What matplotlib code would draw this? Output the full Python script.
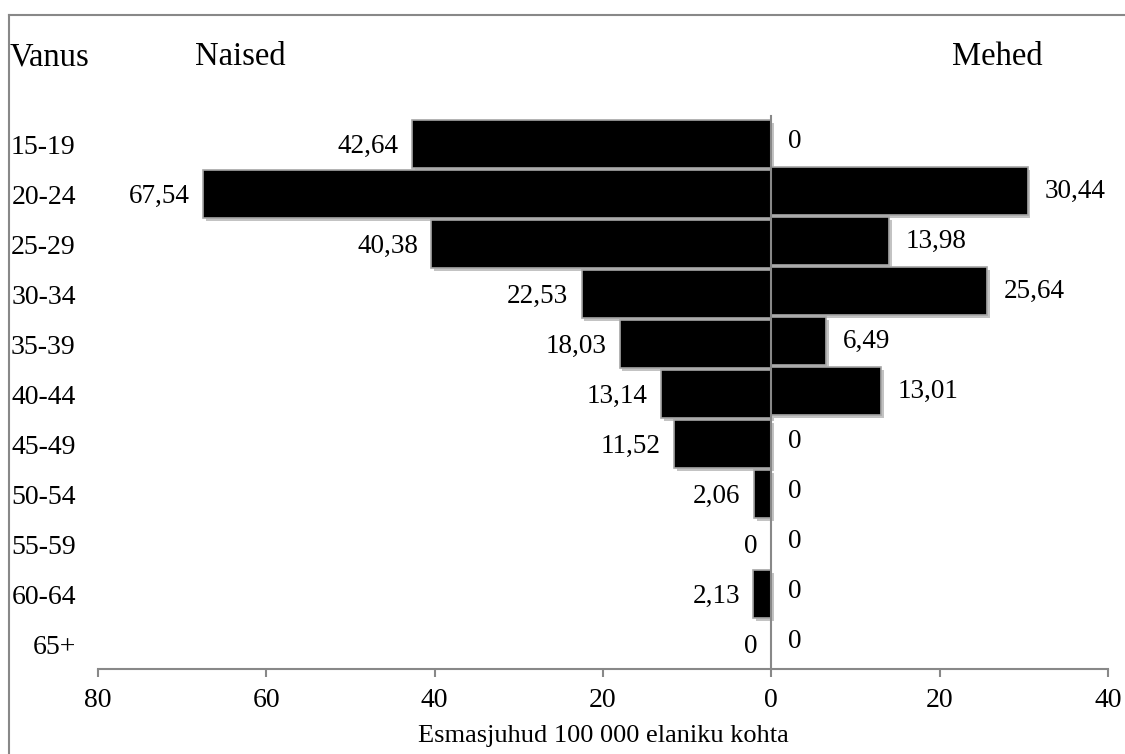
import numpy as np
import matplotlib
matplotlib.use("Agg")
import matplotlib.pyplot as plt
import matplotlib.patheffects as pe
from matplotlib.lines import Line2D

# ============================================================
# DATA
# ============================================================
age_groups = ["15-19", "20-24", "25-29", "30-34", "35-39", "40-44",
              "45-49", "50-54", "55-59", "60-64", "65+"]
women = [42.64, 67.54, 40.38, 22.53, 18.03, 13.14, 11.52, 2.06, 0, 2.13, 0]
men = [0, 30.44, 13.98, 25.64, 6.49, 13.01, 0, 0, 0, 0, 0]
x_ticks = [-80, -60, -40, -20, 0, 20, 40]

plt.rcParams['font.family'] = ['Liberation Serif', 'DejaVu Serif']
FS = 19.5
TICK_FS = 20
HEAD_FS = 23.5

def fmt(v):
    s = f"{v:.2f}".rstrip("0").rstrip(".")
    return s.replace(".", ",")

# ============================================================
# FIGURE
# ============================================================
fig = plt.figure(figsize=(11.25, 7.54), dpi=100)
ax = fig.add_axes([98/1125, 1-669/754, 1010/1125, 550/754])

y = np.arange(len(age_groups))
shadow = [pe.SimplePatchShadow(offset=(2, -2), shadow_rgbFace='#888888', alpha=0.5), pe.Normal()]

bw = ax.barh(y, [-v for v in women], height=0.96, color='black',
             edgecolor='#a6a6a6', linewidth=1.2)
bm = ax.barh(y - 0.06, men, height=0.96, color='black',
             edgecolor='#a6a6a6', linewidth=1.2)
for b in list(bw) + list(bm):
    if b.get_width() != 0:
        b.set_path_effects(shadow)
    else:
        b.set_visible(False)

for yi, v in zip(y, women):
    ax.text(-v - 1.6, yi + 0.05, fmt(v), ha='right', va='center', fontsize=FS)
for yi, v in zip(y, men):
    ax.text(v + 2.0, yi - 0.06, fmt(v), ha='left', va='center', fontsize=FS)

ax.axvline(0, color='#888888', linewidth=1.5, ymin=0, ymax=1.005, clip_on=False)

ax.set_xlim(-80, 40)
ax.set_ylim(len(age_groups) - 0.5, -0.5)
ax.set_xticks(x_ticks)
ax.set_xticklabels([str(abs(t)) for t in x_ticks], fontsize=TICK_FS)
ax.set_yticks(y)
ax.set_yticklabels(age_groups, fontsize=TICK_FS)
ax.tick_params(axis='y', length=0, pad=16)
ax.tick_params(axis='x', length=6, width=1.5, color='#888888', pad=8)
for s in ['top', 'right', 'left']:
    ax.spines[s].set_visible(False)
ax.spines['bottom'].set_color('#888888')
ax.spines['bottom'].set_linewidth(1.5)
ax.set_xlabel("Esmasjuhud 100 000 elaniku kohta", fontsize=19, labelpad=8)

# headers
fig.text(10/1125, 1-57/754, "Vanus", fontsize=HEAD_FS, va='center', ha='left')
fig.text(195/1125, 1-57/754, "Naised", fontsize=HEAD_FS, va='center', ha='left')
fig.text(1043/1125, 1-57/754, "Mehed", fontsize=HEAD_FS, va='center', ha='right')

# outer frame
fig.add_artist(Line2D([9/1125, 9/1125], [0, 1-15/754], color='#888888', linewidth=1.5))
fig.add_artist(Line2D([9/1125, 1], [1-15/754, 1-15/754], color='#888888', linewidth=1.5))

fig.savefig("out.png", dpi=100)
